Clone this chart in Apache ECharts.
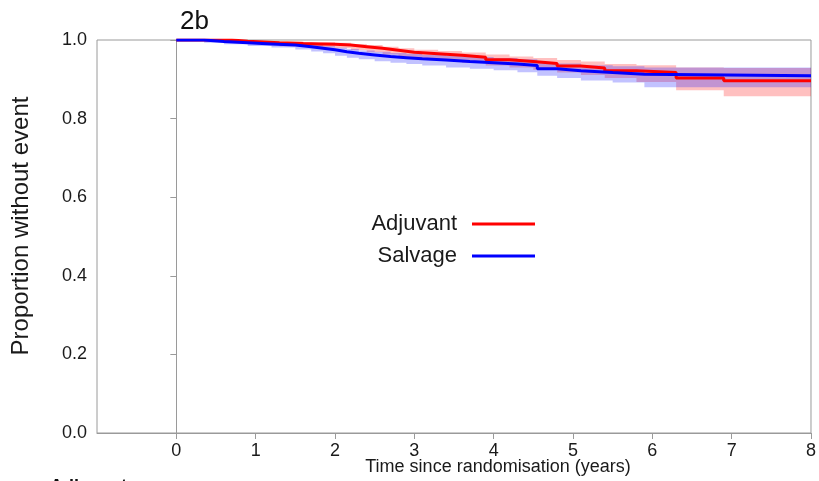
<!DOCTYPE html>
<html>
<head>
<meta charset="utf-8">
<script src="https://cdn.jsdelivr.net/npm/echarts@6/dist/echarts.min.js"></script>
<style>html,body{margin:0;padding:0;background:#fff}#c{width:819px;height:481px}</style>
</head>
<body>
<div id="c"></div>
<script>
// ---- data ----
var panelLabel = '2b';
var xTickValues = [0, 1, 2, 3, 4, 5, 6, 7, 8];
var yTickValues = [0, 0.2, 0.4, 0.6, 0.8, 1.0];

var adjTime  = [0, 0.7, 0.9, 1.1, 1.3, 1.6, 1.8, 2.0, 2.2, 2.4, 2.6, 2.8, 3.0, 3.3, 3.6, 3.9, 4.2, 4.5, 4.8, 5.1, 5.4, 5.8, 6.3, 6.9, 8];
var adjSurv  = [1.000, .997, .995, .993, .991, .990, .989, .987, .983, .979, .974, .969, .965, .961, .956, .950, .945, .940, .934, .929, .922, .917, .903, .896, .896];
var adjLower = [1.000, .994, .990, .987, .984, .982, .981, .979, .974, .969, .963, .957, .953, .948, .942, .935, .930, .924, .917, .911, .903, .893, .872, .857, .857];
var adjUpper = [1.000, .999, .998, .997, .996, .995, .995, .993, .990, .987, .983, .979, .975, .972, .968, .963, .958, .954, .949, .945, .939, .936, .930, .929, .929];

var salTime  = [0, 0.35, 0.6, 0.9, 1.2, 1.5, 1.7, 1.85, 2.0, 2.15, 2.3, 2.5, 2.7, 2.9, 3.1, 3.4, 3.7, 4.0, 4.3, 4.55, 4.8, 5.1, 5.5, 5.9, 8];
var salSurv  = [1.000, .996, .993, .990, .987, .983, .979, .975, .970, .966, .962, .958, .955, .952, .949, .945, .942, .939, .935, .927, .922, .917, .913, .909, .909];
var salLower = [1.000, .993, .989, .985, .981, .976, .971, .966, .960, .955, .951, .946, .942, .939, .935, .930, .927, .923, .918, .909, .903, .897, .892, .880, .880];
var salUpper = [1.000, .999, .997, .995, .993, .990, .987, .984, .980, .977, .973, .970, .967, .965, .962, .959, .957, .954, .951, .944, .940, .936, .933, .930, .930];

var seriesNames = ['Adjuvant', 'Salvage'];
var xTitle = 'Time since randomisation (years)';
var yTitle = 'Proportion without event';

// ---- build ----
function pairs(t, v) { return t.map(function (x, i) { return [x, v[i]]; }); }
function triples(t, lo, hi) { return t.map(function (x, i) { return [x, lo[i], hi[i]]; }); }

var FONT = 'Liberation Sans, Arial, sans-serif';
var GRAY = '#9a9a9a';

function bandRender(color) {
  return function (params, api) {
    if (params.dataIndexInside !== 0) return null;
    var n = params.dataInsideLength;
    var up = [], dn = [];
    for (var i = 0; i < n; i++) {
      var t = api.value(0, i), lo = api.value(1, i), hi = api.value(2, i);
      var tn = i < n - 1 ? api.value(0, i + 1) : t;
      up.push(api.coord([t, hi]), api.coord([tn, hi]));
      dn.push(api.coord([t, lo]), api.coord([tn, lo]));
    }
    return { type: 'polygon', shape: { points: up.concat(dn.reverse()) }, style: { fill: color }, silent: true };
  };
}

function band(t, lo, hi, color) {
  return { type: 'custom', coordinateSystem: 'cartesian2d', data: triples(t, lo, hi),
    encode: { x: 0, y: [1, 2] }, renderItem: bandRender(color), silent: true, z: 1 };
}

var series = [
  band(adjTime, adjLower, adjUpper, 'rgba(255,30,30,0.28)'),
  band(salTime, salLower, salUpper, 'rgba(30,30,255,0.27)'),
  { name: seriesNames[0], type: 'line', step: 'end', data: pairs(adjTime, adjSurv), showSymbol: false,
    color: '#ff0000', lineStyle: { color: '#ff0000', width: 3 }, z: 3,
    markLine: { silent: true, symbol: ['none', 'none'], label: { show: false },
      lineStyle: { color: GRAY, width: 1, type: 'solid' }, data: [{ xAxis: 0 }], z: 0 } },
  { name: seriesNames[1], type: 'line', step: 'end', data: pairs(salTime, salSurv), showSymbol: false,
    color: '#0000ff', lineStyle: { color: '#0000ff', width: 3 }, z: 4 }
];

var chart = echarts.init(document.getElementById('c'), null, { renderer: 'canvas' });
chart.setOption({
  animation: false,
  backgroundColor: '#ffffff',
  textStyle: { fontFamily: FONT },
  grid: { left: 97, right: 4, top: 40, bottom: 48, show: true, borderColor: GRAY, borderWidth: 1, backgroundColor: 'transparent' },
  xAxis: {
    type: 'value', min: -1, max: 8, interval: 1,
    axisLine: { show: true, lineStyle: { color: GRAY } },
    axisTick: { show: true, length: 6, lineStyle: { color: GRAY }, customValues: xTickValues },
    axisLabel: { color: '#1a1a1a', fontSize: 18, fontFamily: FONT, margin: 9, customValues: xTickValues },
    splitLine: { show: false }
  },
  yAxis: {
    type: 'value', min: 0, max: 1, interval: 0.2,
    axisLine: { show: true, lineStyle: { color: GRAY } },
    axisTick: { show: true, length: 6, lineStyle: { color: GRAY }, customValues: yTickValues },
    axisLabel: { color: '#1a1a1a', fontSize: 18, fontFamily: FONT, margin: 10, customValues: yTickValues,
      formatter: function (v) { return v.toFixed(1); } },
    splitLine: { show: false }
  },
  legend: [
    { data: [seriesNames[0]], orient: 'vertical', right: 279, top: 208, align: 'right', icon: 'rect',
      itemWidth: 63, itemHeight: 3, itemGap: 0, selectedMode: false,
      textStyle: { fontSize: 22, color: '#1a1a1a', fontFamily: FONT, padding: [0, 10, 0, 0] } },
    { data: [seriesNames[1]], orient: 'vertical', right: 279, top: 240, align: 'right', icon: 'rect',
      itemWidth: 63, itemHeight: 3, itemGap: 0, selectedMode: false,
      textStyle: { fontSize: 22, color: '#1a1a1a', fontFamily: FONT, padding: [0, 10, 0, 0] } }
  ],
  graphic: [
    { type: 'text', left: 180, top: 9, style: { text: panelLabel, font: '26px ' + FONT, fill: '#111' } },
    { type: 'text', x: 498, y: 467, style: { text: xTitle, font: '18px ' + FONT, fill: '#1a1a1a', align: 'center', verticalAlign: 'middle' } },
    { type: 'text', x: 21, y: 226, rotation: Math.PI / 2, style: { text: yTitle, font: '24px ' + FONT, fill: '#1a1a1a', align: 'center', verticalAlign: 'middle' } },
    { type: 'text', left: 50, top: 478, style: { text: 'Adjuvant', font: 'bold 18px ' + FONT, fill: '#111' } }
  ],
  series: series
});
</script>
</body>
</html>
